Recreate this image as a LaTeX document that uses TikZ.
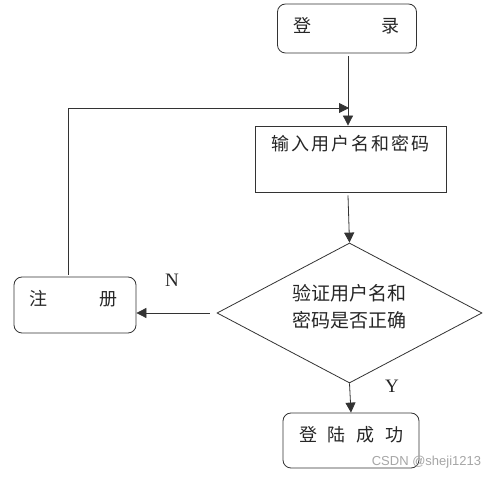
\documentclass[tikz,border=0pt]{standalone}
\usepackage{fontspec}
\setmainfont{Liberation Serif}
\newfontfamily\cjk{Noto Sans CJK SC}
\newfontfamily\wmfont{Liberation Sans}
\usetikzlibrary{shapes.geometric,arrows.meta}
\tikzset{
  box/.style={draw=black!80, line width=0.8pt, minimum width=#1, inner sep=0pt},
  rbox/.style={box=#1, rounded corners=8pt},
  cjktext/.style={font=\cjk\fontsize{18}{27}\selectfont, text=black!85},
  arr/.style={draw=black!80, line width=0.8pt, -{Triangle[length=10pt,width=10pt]}},
  yn/.style={font=\fontsize{19}{21}\selectfont, text=black!85},
}
\begin{document}
\begin{tikzpicture}[x=1pt,y=-1pt]
\useasboundingbox[fill=white] (0,0) rectangle (499,478);
% boxes
\node[rbox=139pt, minimum height=49pt] (login) at (347,28.5) {};
\node[box=191pt, minimum height=66pt] (input) at (350.5,159) {};
\node[draw=black!80, line width=0.8pt, diamond, minimum width=265pt, minimum height=140pt, inner sep=0pt] (dia) at (349.5,313) {};
\node[rbox=122pt, minimum height=56pt] (reg) at (75,305) {};
\node[rbox=136pt, minimum height=55pt] (succ) at (351,440.5) {};
% texts
\node[cjktext] (tlogin) at (346,26) {登\hspace{70pt}录};
\node[cjktext] (tinput) at (350.5,144) {输\kern2pt 入\kern2pt 用\kern2pt 户\kern2pt 名\kern2pt 和\kern2pt 密\kern2pt 码};
\node[cjktext, font=\cjk\fontsize{19}{27}\selectfont, align=center] (tdia) at (349.5,306.5) {验证用户名和\\密码是否正确};
\node[cjktext] (treg) at (74,299) {注\hspace{52pt}册};
\node[cjktext] (tsucc) at (351.5,435) {登\hspace{11pt}陆\hspace{11pt}成\hspace{11pt}功};
\node[yn] (lN) at (172,280) {N};
\node[yn] (lY) at (392,386) {Y};
\node[font=\wmfont\fontsize{13}{15}\selectfont, text=black!35] (wm) at (426.5,462) {CSDN @sheji1213};
% connectors
\coordinate (cx) at (348,0);
\coordinate (lx) at (68,0);
\coordinate (fb) at (349,108);
\draw[arr] ([yshift=-3pt]login.south -| cx) -- (input.north -| cx);
\draw[arr] ([yshift=2pt]reg.north -| lx) |- (fb);
\draw[arr] ([yshift=-3pt]input.south -| cx) -- (dia.north);
\draw[arr] ([xshift=-7pt]dia.west) -- (dia.west -| reg.east);
\draw[arr] (dia.south) -- (succ.north);
\end{tikzpicture}
\end{document}
